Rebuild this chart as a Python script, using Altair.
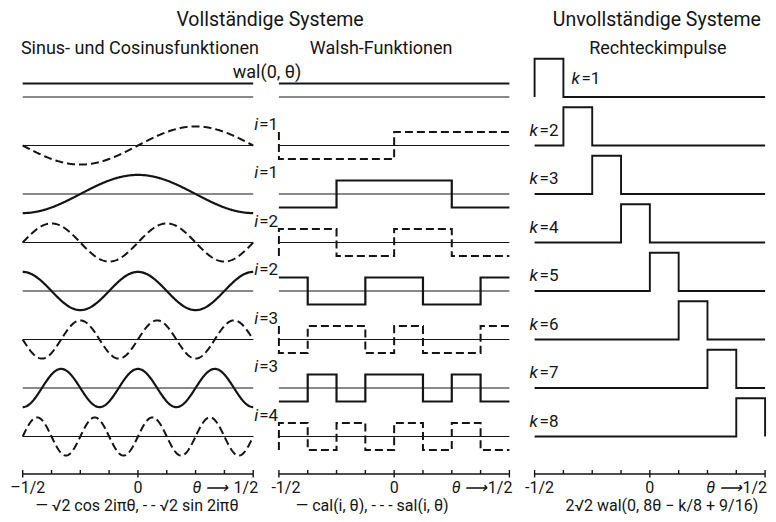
import numpy as np
import pandas as pd
import altair as alt

# ---------------- data ----------------
ROW_FREQ = [0, 1, 1, 2, 2, 3, 3, 4]                      # i of each row
ROW_KIND = ["cal", "sal", "cal", "sal", "cal", "sal", "cal", "sal"]
# Walsh functions: sign on each 1/8 of the interval -1/2..1/2
WALSH_SIGNS = [
    [1, 1, 1, 1, 1, 1, 1, 1],          # wal(0)
    [-1, -1, -1, -1, 1, 1, 1, 1],      # sal(1)
    [-1, -1, 1, 1, 1, 1, -1, -1],      # cal(1)
    [1, 1, -1, -1, 1, 1, -1, -1],      # sal(2)
    [1, -1, -1, 1, 1, -1, -1, 1],      # cal(2)
    [-1, 1, 1, -1, 1, -1, -1, 1],      # sal(3)
    [-1, 1, -1, 1, 1, -1, 1, -1],      # cal(3)
    [1, -1, 1, -1, 1, -1, 1, -1],      # sal(4)
]
PULSE_K = [1, 2, 3, 4, 5, 6, 7, 8]
PULSE_HEIGHT = 2 * np.sqrt(2)
SINE_AMPL = np.sqrt(2)
TICK_VALUES = [-0.5, -0.375, -0.25, -0.125, 0.0, 0.125, 0.25, 0.375, 0.5]
MAJOR_TICKS = [-0.5, 0.0, 0.5]

# ---------------- layout constants ----------------
W, H = 760, 506
XU, YU = 230.5, 13.5            # px per unit
PANEL = [0.0, 1.1115, 2.2208]   # panel centres on the common x scale
ROW_STEP = 48.5 / YU
X0 = -0.5 - 14.7 / XU
X1 = X0 + W / XU
Y1 = 89 / YU
Y0 = Y1 - H / YU
AXIS_Y = (97 - 474) / YU
INK = "#151515"
FONT = "Roboto"

xs = alt.Scale(domain=[X0, X1], nice=False, zero=False)
ys = alt.Scale(domain=[Y0, Y1], nice=False, zero=False)
X = alt.X("gx:Q", scale=xs, axis=None)
Y = alt.Y("gy:Q", scale=ys, axis=None)


def base(r):
    return -r * ROW_STEP


# ---------------- curves ----------------
recs = []


def add_path(name, style, xs_, ys_):
    for j, (a, b) in enumerate(zip(xs_, ys_)):
        recs.append({"series": name, "style": style, "idx": j, "gx": a, "gy": b})


theta = np.linspace(-0.5, 0.5, 321)
for r in range(8):
    f, kind = ROW_FREQ[r], ROW_KIND[r]
    # baselines in panels 1 and 2
    for p in (0, 1):
        add_path(f"base{p}_{r}", "thin", [PANEL[p] - 0.5, PANEL[p] + 0.5], [base(r), base(r)])
    # panel 1: sine / cosine
    if f == 0:
        add_path(f"trig{r}", "solid", [PANEL[0] - 0.5, PANEL[0] + 0.5], [base(r) + 1, base(r) + 1])
    else:
        fn = np.cos if kind == "cal" else np.sin
        v = SINE_AMPL * fn(2 * np.pi * f * theta)
        add_path(f"trig{r}", "solid" if kind == "cal" else "dashed", theta + PANEL[0], v + base(r))
    # panel 2: Walsh
    s = WALSH_SIGNS[r]
    px, py = [], []
    if kind == "sal":
        px.append(-0.5); py.append(-s[0])
    px.append(-0.5); py.append(s[0])
    for j in range(1, 8):
        if s[j] != s[j - 1]:
            xj = -0.5 + j / 8
            px += [xj, xj]; py += [s[j - 1], s[j]]
    px.append(0.5); py.append(s[-1])
    add_path(f"wal{r}", "dashed" if kind == "sal" else "solid",
             [a + PANEL[1] for a in px], [b + base(r) for b in py])
    # panel 3: rectangular pulses
    k = PULSE_K[r]
    a, b = -0.5 + (k - 1) / 8, -0.5 + k / 8
    qx = [-0.5, a, a, b, b, 0.5]
    qy = [0, 0, PULSE_HEIGHT, PULSE_HEIGHT, 0, 0]
    add_path(f"pulse{r}", "pulse", [t + PANEL[2] for t in qx], [t + base(r) for t in qy])

curves = pd.DataFrame(recs)


def line_layer(style, width, dash=None):
    kw = dict(stroke=INK, strokeWidth=width, strokeJoin="miter", strokeCap="butt")
    if dash:
        kw["strokeDash"] = dash
    return alt.Chart(curves).transform_filter(alt.datum.style == style).mark_line(**kw).encode(
        x=X, y=Y, detail="series:N", order="idx:Q")


# ---------------- axes ----------------
axis_df = pd.DataFrame({"gx": [p - 0.5 for p in PANEL], "gx2": [p + 0.5 for p in PANEL],
                        "gy": [AXIS_Y] * 3})
tick_recs = []
for p in PANEL:
    for t in TICK_VALUES:
        major = t in MAJOR_TICKS
        tick_recs.append({"gx": p + t, "gy": AXIS_Y - (3.5 / YU if major else 0),
                          "gy2": AXIS_Y + (4.0 / YU)})
ticks_df = pd.DataFrame(tick_recs)

axis_line = alt.Chart(axis_df).mark_rule(stroke=INK, strokeWidth=1.6).encode(
    x=X, x2="gx2:Q", y=Y)
tick_marks = alt.Chart(ticks_df).mark_rule(stroke=INK, strokeWidth=1.4).encode(
    x=X, y=Y, y2="gy2:Q")


# ---------------- texts ----------------
def T(text, gx, gy, dx=0.0, dy=0.0):
    return {"text": text, "gx": gx + dx / XU, "gy": gy - dy / YU}


def text_layer(rows, size, align="center", italic=False):
    return alt.Chart(pd.DataFrame(rows)).mark_text(
        fontSize=size, align=align, baseline="middle", font=FONT, color=INK,
        fontStyle="italic" if italic else "normal").encode(x=X, y=Y, text="text:N")


mid01 = (PANEL[0] + PANEL[1]) / 2
top_titles = [
    T("Vollständige Systeme", mid01, base(0), dx=4, dy=-77),
    T("Unvollständige Systeme", PANEL[2], base(0), dx=7, dy=-77),
]
sub_titles = [
    T("Sinus- und Cosinusfunktionen", PANEL[0], base(0), dx=2, dy=-48),
    T("Walsh-Funktionen", PANEL[1], base(0), dx=-13, dy=-48),
    T("Rechteckimpulse", PANEL[2], base(0), dx=8, dy=-48),
]
wal0 = [T("wal(0, θ)", mid01, base(0), dx=1, dy=-24.5)]

i_var, i_num = [], []
for r in range(1, 8):
    i_var.append(T("i", PANEL[0] + 0.5, base(r), dx=5, dy=-21))
    i_num.append(T(f"={ROW_FREQ[r]}", PANEL[0] + 0.5, base(r), dx=6, dy=-21))

k_var, k_num = [], []
for r in range(8):
    k = PULSE_K[r]
    if k == 1:
        ax, dxk, dyk = PANEL[2] - 0.375, 8, -18
    else:
        ax, dxk, dyk = PANEL[2] - 0.5, -5, -15
    k_var.append(T("k", ax, base(r), dx=dxk, dy=dyk))
    k_num.append(T(f"={k}", ax, base(r), dx=dxk + 10, dy=dyk))

tick_lab_c, tick_lab_r, arrows = [], [], []
for p, dxl, dxr, dxa in zip(PANEL, [5, 7, 5], [5, 3, 2], [-25, -22, -23]):
    tick_lab_c.append(T("–1/2" if p == 0 else "-1/2", p - 0.5, AXIS_Y, dx=dxl, dy=13.5))
    tick_lab_c.append(T("0", p, AXIS_Y, dy=13.5))
    tick_lab_r.append(T("1/2", p + 0.5, AXIS_Y, dx=dxr, dy=13.5))
    arrows.append(T("θ ⟶", p + 0.5, AXIS_Y, dx=dxa, dy=13.5))

legends = [
    T("— √2 cos 2iπθ, - - √2 sin 2iπθ", PANEL[0], AXIS_Y, dx=-1, dy=32),
    T("— cal(i, θ), - - - sal(i, θ)", PANEL[1], AXIS_Y, dx=-22, dy=32),
    T("2√2 wal(0, 8θ − k/8 + 9/16)", PANEL[2], AXIS_Y, dx=12, dy=32),
]

chart = alt.layer(
    line_layer("thin", 1.2),
    line_layer("solid", 2.2),
    line_layer("dashed", 2.0, [8, 4]),
    line_layer("pulse", 1.9),
    axis_line,
    tick_marks,
    text_layer(top_titles, 19.5),
    text_layer(sub_titles, 18),
    text_layer(wal0, 18),
    text_layer(i_var, 17, align="right", italic=True),
    text_layer(i_num, 17, align="left"),
    text_layer(k_var, 17, align="left", italic=True),
    text_layer(k_num, 17, align="left"),
    text_layer(tick_lab_c, 16),
    text_layer(tick_lab_r, 16, align="right"),
    text_layer(arrows, 16, align="right", italic=True),
    text_layer(legends, 16),
).properties(
    width=W, height=H, autosize=alt.AutoSizeParams(type="none"), padding=0,
    background="white",
).configure_view(stroke=None)

chart.save("out.html", embed_options={"renderer": "svg", "actions": False})
